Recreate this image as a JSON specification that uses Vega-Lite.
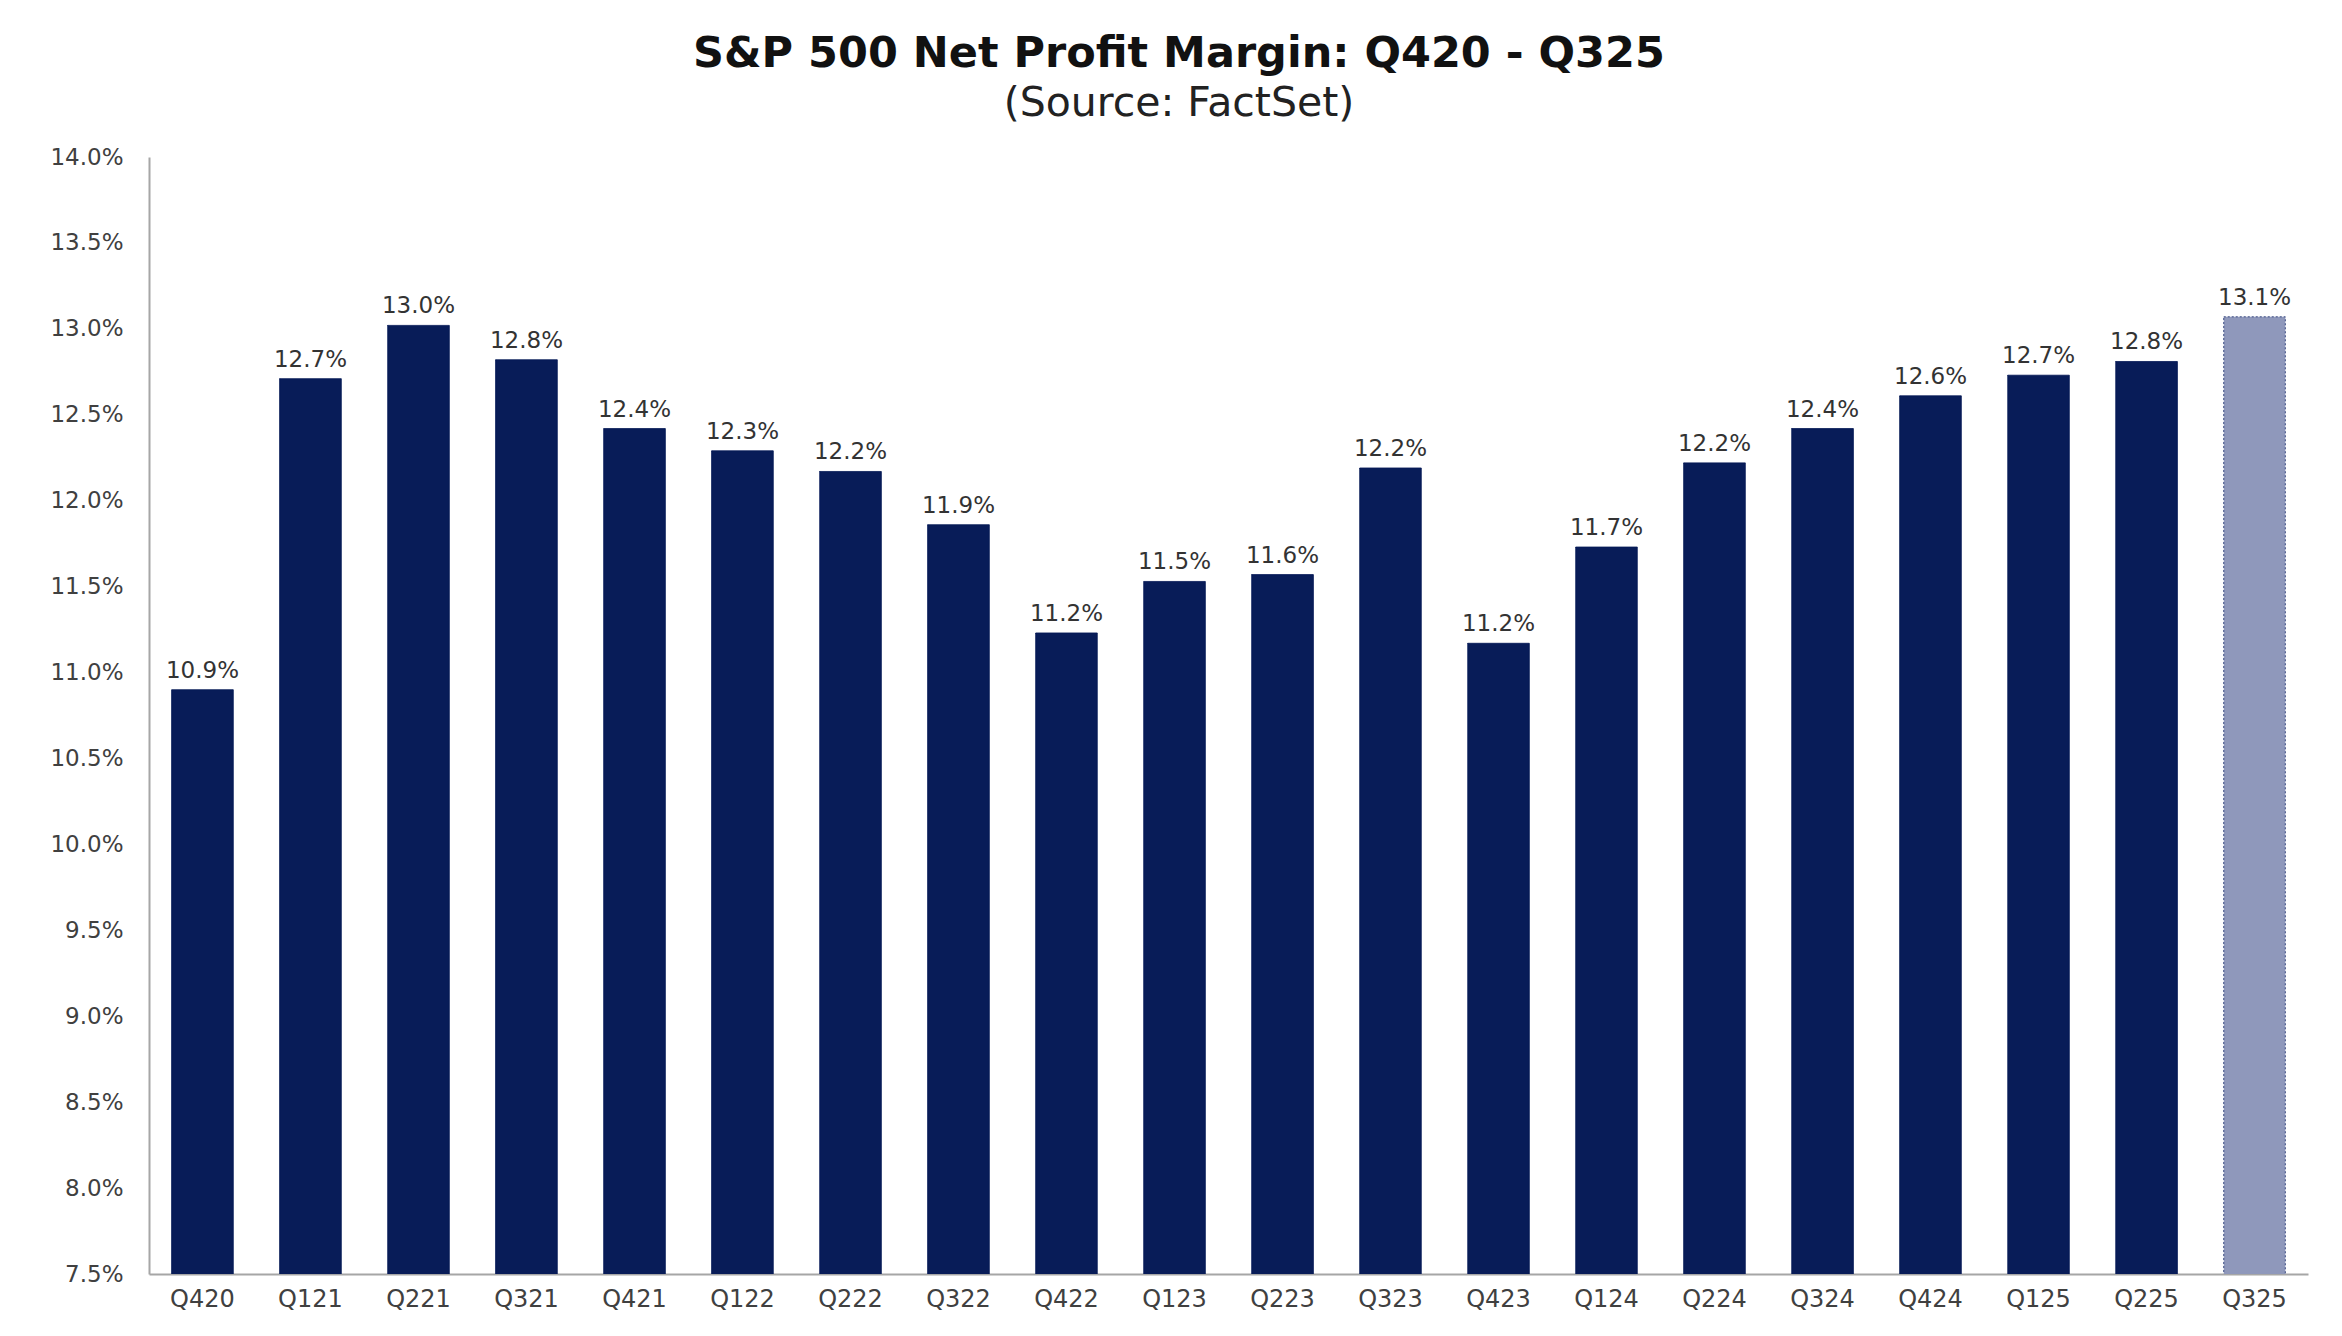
{
  "$schema": "https://vega.github.io/schema/vega-lite/v6.json",
  "autosize": {"type": "none"},
  "padding": {"left": 149, "top": 157, "right": 34, "bottom": 62},
  "width": 2159,
  "height": 1117,
  "background": "white",
  "title": {
    "text": "S&P 500 Net Profit Margin: Q420 - Q325",
    "subtitle": "(Source: FactSet)",
    "frame": "bounds",
    "anchor": "middle",
    "font": "DejaVu Sans",
    "fontWeight": "bold",
    "fontSize": 43,
    "color": "#111111",
    "subtitleFont": "DejaVu Sans",
    "subtitleFontSize": 41,
    "subtitleColor": "#222222",
    "subtitlePadding": 8,
    "offset": 22
  },
  "data": {
    "values": [
      {"quarter": "Q420", "margin": 0.1090, "kind": "Actual"},
      {"quarter": "Q121", "margin": 0.1271, "kind": "Actual"},
      {"quarter": "Q221", "margin": 0.1302, "kind": "Actual"},
      {"quarter": "Q321", "margin": 0.1282, "kind": "Actual"},
      {"quarter": "Q421", "margin": 0.1242, "kind": "Actual"},
      {"quarter": "Q122", "margin": 0.1229, "kind": "Actual"},
      {"quarter": "Q222", "margin": 0.1217, "kind": "Actual"},
      {"quarter": "Q322", "margin": 0.1186, "kind": "Actual"},
      {"quarter": "Q422", "margin": 0.1123, "kind": "Actual"},
      {"quarter": "Q123", "margin": 0.1153, "kind": "Actual"},
      {"quarter": "Q223", "margin": 0.1157, "kind": "Actual"},
      {"quarter": "Q323", "margin": 0.1219, "kind": "Actual"},
      {"quarter": "Q423", "margin": 0.1117, "kind": "Actual"},
      {"quarter": "Q124", "margin": 0.1173, "kind": "Actual"},
      {"quarter": "Q224", "margin": 0.1222, "kind": "Actual"},
      {"quarter": "Q324", "margin": 0.1242, "kind": "Actual"},
      {"quarter": "Q424", "margin": 0.1261, "kind": "Actual"},
      {"quarter": "Q125", "margin": 0.1273, "kind": "Actual"},
      {"quarter": "Q225", "margin": 0.1281, "kind": "Actual"},
      {"quarter": "Q325", "margin": 0.1307, "kind": "Estimate"}
    ]
  },
  "encoding": {
    "x": {
      "field": "quarter",
      "type": "nominal",
      "sort": null,
      "title": null,
      "scale": {"paddingInner": 0.43, "paddingOuter": 0.21},
      "axis": {
        "labelAngle": 0,
        "ticks": false,
        "labelPadding": 13,
        "labelFontSize": 24,
        "labelFont": "DejaVu Sans",
        "labelColor": "#404040",
        "domainColor": "#a6a6a6",
        "domainWidth": 2
      }
    },
    "y": {
      "field": "margin",
      "type": "quantitative",
      "title": null,
      "scale": {"domain": [0.075, 0.14], "nice": false, "zero": false},
      "axis": {
        "values": [0.075, 0.08, 0.085, 0.09, 0.095, 0.1, 0.105, 0.11, 0.115, 0.12, 0.125, 0.13, 0.135, 0.14],
        "format": ".1%",
        "ticks": false,
        "grid": false,
        "labelPadding": 26,
        "labelFontSize": 23,
        "labelFont": "DejaVu Sans",
        "labelColor": "#404040",
        "domainColor": "#a6a6a6",
        "domainWidth": 2
      }
    }
  },
  "layer": [
    {
      "mark": {"type": "bar", "clip": true},
      "encoding": {
        "color": {
          "field": "kind",
          "type": "nominal",
          "scale": {"domain": ["Actual", "Estimate"], "range": ["#081c58", "#8f98bb"]},
          "legend": null
        },
        "stroke": {
          "field": "kind",
          "type": "nominal",
          "scale": {"domain": ["Actual", "Estimate"], "range": ["#081c58", "#3a4a80"]},
          "legend": null
        },
        "strokeDash": {
          "field": "kind",
          "type": "nominal",
          "scale": {"domain": ["Actual", "Estimate"], "range": [[1, 0], [2, 2]]},
          "legend": null
        }
      }
    },
    {
      "mark": {
        "type": "text",
        "baseline": "alphabetic",
        "dy": -12,
        "font": "DejaVu Sans",
        "fontSize": 23,
        "color": "#333333"
      },
      "encoding": {
        "text": {"field": "margin", "type": "quantitative", "format": ".1%"}
      }
    }
  ],
  "config": {"view": {"stroke": null}}
}
